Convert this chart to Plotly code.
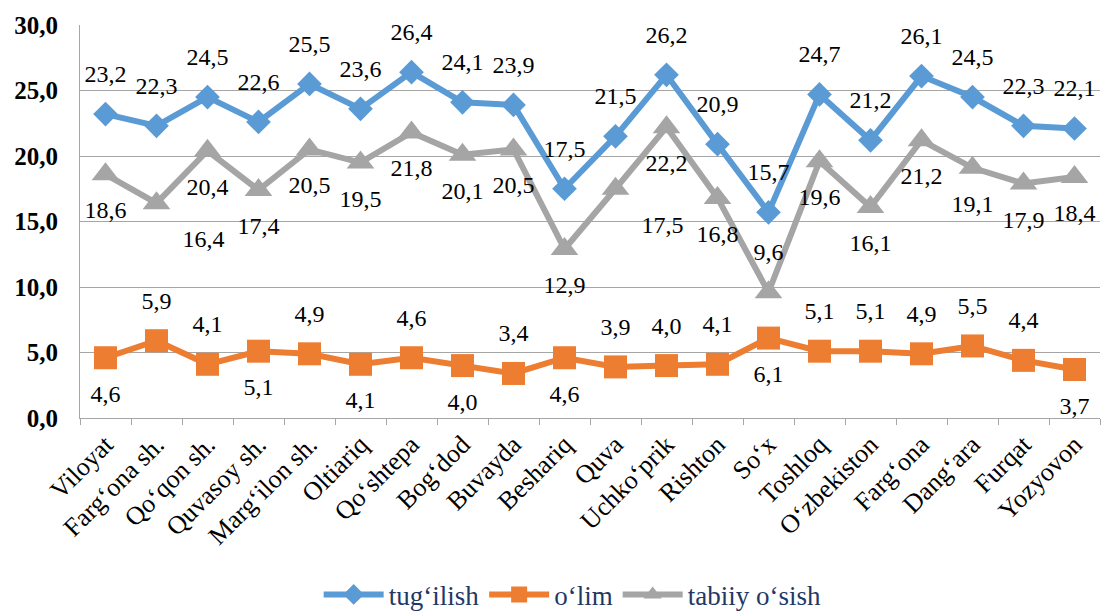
import plotly.graph_objects as go

categories = ["Viloyat", "Farg‘ona sh.", "Qo‘qon sh.", "Quvasoy sh.", "Marg‘ilon sh.",
              "Oltiariq", "Qo‘shtepa", "Bog‘dod", "Buvayda", "Beshariq", "Quva",
              "Uchko‘prik", "Rishton", "So‘x", "Toshloq", "O‘zbekiston", "Farg‘ona",
              "Dang‘ara", "Furqat", "Yozyovon"]
tugilish = [23.2, 22.3, 24.5, 22.6, 25.5, 23.6, 26.4, 24.1, 23.9, 17.5, 21.5, 26.2,
            20.9, 15.7, 24.7, 21.2, 26.1, 24.5, 22.3, 22.1]
olim = [4.6, 5.9, 4.1, 5.1, 4.9, 4.1, 4.6, 4.0, 3.4, 4.6, 3.9, 4.0, 4.1, 6.1, 5.1,
        5.1, 4.9, 5.5, 4.4, 3.7]
tabiiy = [18.6, 16.4, 20.4, 17.4, 20.5, 19.5, 21.8, 20.1, 20.5, 12.9, 17.5, 22.2,
          16.8, 9.6, 19.6, 16.1, 21.2, 19.1, 17.9, 18.4]
series_names = ["tug‘ilish", "o‘lim", "tabiiy o‘sish"]

# label placement
T, B, BR, BL = "top center", "bottom center", "bottom right", "bottom left"
pos_tug = [T] * 20
pos_olim = [B, T, T, B, T, B, T, B, T, B, T, T, T, B, T, T, T, T, T, B]
pos_tab = [B, BR, B, B, B, B, B, B, B, B, BR, B, B, T, B, B, B, B, B, B]

FONT = "Liberation Serif"
label_font = dict(family=FONT, size=24, color="black")

styles = [
    ("#5B9BD5", "diamond", 19),
    ("#ED7D31", "square", 23),
    ("#A5A5A5", "triangle-up", 24),
]
values = [tugilish, olim, tabiiy]
positions = [pos_tug, pos_olim, pos_tab]

fig = go.Figure()
for name, vals, (color, sym, size) in zip(series_names, values, styles):
    fig.add_trace(go.Scatter(
        x=categories, y=vals, name=name, mode="lines+markers",
        line=dict(color=color, width=6),
        marker=dict(symbol=sym, size=size, color=color),
        hoverinfo="x+y",
    ))
for name, vals, pos in zip(series_names, values, positions):
    fig.add_trace(go.Scatter(
        x=categories, y=vals, name=name, mode="markers+text", showlegend=False,
        marker=dict(size=40, color="rgba(0,0,0,0)"),
        texttemplate="%{y:.1f}", textposition=pos, textfont=label_font,
        hoverinfo="skip",
    ))

fig.update_layout(
    width=1111, height=606,
    margin=dict(l=72, r=19, t=17, b=196, autoexpand=False),
    plot_bgcolor="white", paper_bgcolor="white",
    separators=", ",
    font=dict(family=FONT, color="black"),
    showlegend=True,
    legend=dict(orientation="h", x=0.483, xanchor="center", y=-0.45, yanchor="middle",
                font=dict(family=FONT, size=27, color="#1F3864"),
                itemwidth=60, tracegroupgap=0),
)
fig.update_xaxes(
    type="category", range=[-0.5, 19.5], tickson="boundaries", automargin=False,
    showgrid=False, showline=True, linecolor="#A6A6A6", linewidth=1,
    ticks="outside", ticklen=6, tickcolor="#A6A6A6",
    tickangle=-45, tickfont=dict(family=FONT, size=26, color="black"),
)
fig.update_yaxes(
    range=[0, 30], dtick=5, tickformat=".1f", automargin=False,
    showgrid=True, gridcolor="#A6A6A6", gridwidth=1,
    showline=True, linecolor="#A6A6A6", linewidth=1, zeroline=False,
    ticks="", ticklabelstandoff=16,
    tickfont=dict(family=FONT, size=25, color="black", weight="bold"),
)

fig.write_html("out.html")
